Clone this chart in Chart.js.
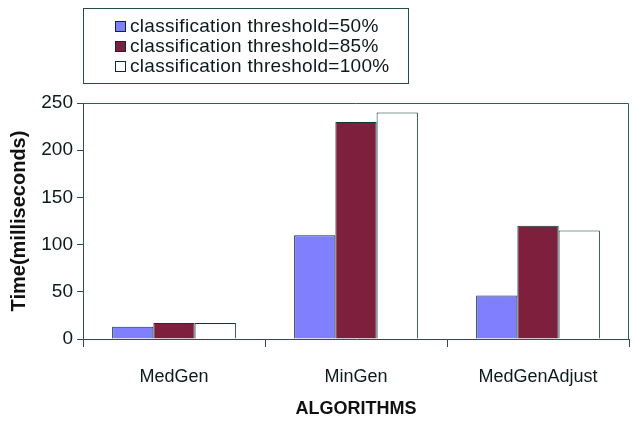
<!DOCTYPE html>
<html>
<head>
<meta charset="utf-8">
<script src="https://cdn.jsdelivr.net/npm/chart.js@4/dist/chart.umd.min.js"></script>
<style>
  html, body { margin: 0; padding: 0; background: #fff; }
  #wrap { position: relative; width: 634px; height: 423px; }
  #legend {
    position: absolute; left: 83px; top: 8px; width: 326px; height: 76px;
    border: 1px solid #1f4f4f; box-sizing: border-box;
    font-family: "Liberation Sans", Arial, sans-serif; font-size: 19px; color: #0d1a1a;
    padding-top: 7px;
  }
  .row { height: 20px; line-height: 20px; padding-left: 31px; white-space: nowrap; letter-spacing: 0.3px; }
  .sw { display: inline-block; width: 9px; height: 9px; border: 1px solid #0d2a2a; margin-right: 4px; vertical-align: 0px; }
</style>
</head>
<body>
<div id="wrap">
  <canvas id="chart" width="634" height="423"></canvas>
  <div id="legend"></div>
</div>
<script>
document.addEventListener('DOMContentLoaded', function() {
    // datos
    const algorithms = ['MedGen', 'MinGen', 'MedGenAdjust'];
    const seriesNames = ['classification threshold=50%', 'classification threshold=85%', 'classification threshold=100%'];
    const threshold50 = [13, 110, 46];
    const threshold85 = [17, 230, 120];
    const threshold100 = [17, 240, 115];
    const yTicks = [0, 50, 100, 150, 200, 250];

    const fills = ['#8080ff', '#7e1f3e', '#ffffff'];
    const edge = '#0f3535';
    const textColor = '#0d1a1a';
    const font = 'Liberation Sans';

    // marco del area del grafico (arriba y derecha)
    const frame = {
        id: 'frame',
        afterDraw(chart) {
            const a = chart.chartArea;
            const ctx = chart.ctx;
            ctx.save();
            ctx.strokeStyle = '#2a6060';
            ctx.lineWidth = 1;
            ctx.beginPath();
            ctx.moveTo(a.left, a.top + 0.5);
            ctx.lineTo(a.right - 0.5, a.top + 0.5);
            ctx.lineTo(a.right - 0.5, a.bottom);
            ctx.stroke();
            ctx.restore();
        }
    };

    const values = [threshold50, threshold85, threshold100];
    const chart = new Chart(document.getElementById('chart'), {
        type: 'bar',
        data: {
            labels: algorithms,
            datasets: seriesNames.map((name, i) => ({
                label: name,
                data: values[i],
                backgroundColor: fills[i],
                borderColor: edge,
                borderWidth: 1,
                categoryPercentage: 0.68,
                barPercentage: 1.0
            }))
        },
        options: {
            responsive: false,
            animation: false,
            layout: { padding: { top: 103, right: 5, left: 0, bottom: 0 } },
            plugins: {
                legend: { display: false },
                tooltip: { enabled: false }
            },
            scales: {
                x: {
                    offset: true,
                    afterFit: axis => { axis.height = 84; },
                    grid: { offset: true, drawOnChartArea: false, tickLength: 8, color: '#2a5050' },
                    border: { color: '#2a5050' },
                    ticks: { color: textColor, font: { family: font, size: 18 }, padding: 19 },
                    title: { display: true, text: 'ALGORITHMS', color: '#111', font: { family: font, size: 18, weight: 'bold' }, padding: { top: 4, bottom: 3 } }
                },
                y: {
                    min: 0,
                    max: 250,
                    afterBuildTicks: axis => { axis.ticks = yTicks.map(v => ({ value: v })); },
                    afterFit: axis => { axis.width = 83; },
                    grid: { drawOnChartArea: false, tickLength: 6, color: '#2a5050' },
                    border: { color: '#2a5050' },
                    ticks: { color: textColor, font: { family: font, size: 19 }, padding: 4 },
                    title: { display: true, text: 'Time(milliseconds)', color: '#111', font: { family: font, size: 20, weight: 'bold' }, padding: { top: 7, bottom: 0 } }
                }
            }
        },
        plugins: [frame]
    });

    // leyenda en html a partir de las series
    const legend = document.getElementById('legend');
    seriesNames.forEach((name, i) => {
        const row = document.createElement('div');
        row.className = 'row';
        row.innerHTML = '<span class="sw" style="background:' + fills[i] + '"></span>' + name;
        legend.appendChild(row);
    });
});
</script>
</body>
</html>
